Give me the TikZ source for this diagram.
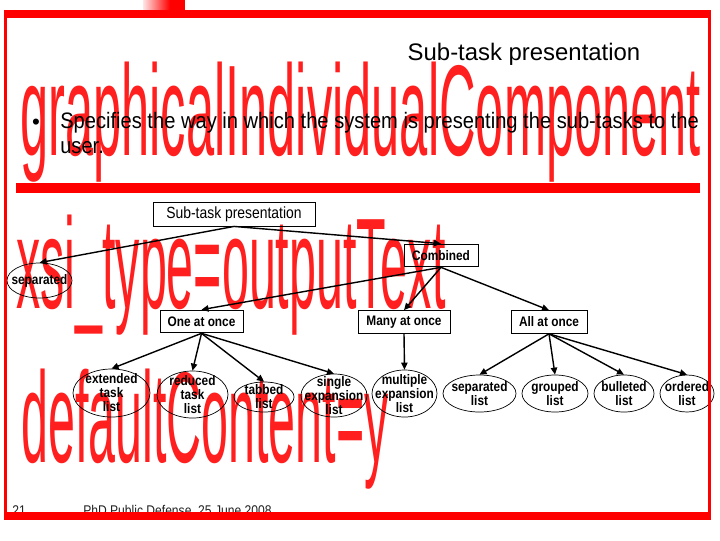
\documentclass[tikz,border=0pt]{standalone}
\usepackage{fontspec}
\setmainfont{Liberation Sans}
\newfontfamily\slidesans[FakeStretch=0.86]{Liberation Sans}
\newfontfamily\bulletsans[FakeStretch=0.9]{Liberation Sans}
\newfontfamily\markfont[FakeStretch=0.375]{Liberation Sans}
\newfontfamily\markfontwide[FakeStretch=0.392]{Liberation Sans}
\usetikzlibrary{arrows.meta,positioning,shapes.geometric}
\definecolor{SlideRed}{HTML}{FF0000}
\definecolor{Ink}{HTML}{000000}
\definecolor{Footer}{HTML}{222222}
\tikzset{
  markword/.style={anchor=base west,inner sep=0pt,text=SlideRed!88,font=\markfont\fontsize{91.8}{92}\selectfont},
  optbox/.style={draw=Ink,line width=0.6pt,inner sep=0pt,minimum height=0.57cm,align=center,font=\slidesans\bfseries\fontsize{9.8}{11}\selectfont,text=Ink},
  listitem/.style={draw=Ink,ellipse,line width=0.5pt,inner sep=0pt},
  listtext/.style={inner sep=0pt,align=center,font=\slidesans\bfseries\fontsize{9.8}{10}\selectfont,text=Ink},
  line/.style={-{Triangle[length=5pt,width=4.5pt]},draw=Ink,line width=1pt},
  footnote/.style={anchor=base west,inner sep=0pt,text=Footer,font=\slidesans\fontsize{10}{12}\selectfont}
}
\begin{document}
\begin{tikzpicture}[x=0.025cm,y=-0.025cm]
  \useasboundingbox (0,0) rectangle (720,540);
  \fill[white] (0,0) rectangle (720,540);
  \node[markword,font=\markfontwide\fontsize{91.8}{92}\selectfont] (mark1) at (20,155) {graphicalIndividualComponent};
  \node[markword] (mark2) at (16,308) {xsi\_type=outputText};
  \node[markword] (mark3) at (21,462) {defaultContent=y};

  \node[anchor=base,inner sep=0pt,font=\fontsize{17}{20}\selectfont] (title) at (524,60) {Sub-task presentation};
  \node[anchor=base,inner sep=0pt,font=\fontsize{15.9}{17}\selectfont] (dot) at (36,129) {\textbullet};
  \node[anchor=base west,inner sep=0pt,align=left,font=\bulletsans\fontsize{15.9}{17.1}\selectfont] (intro) at (60,153)
    {Specifies the way in which the system is presenting the sub-tasks to the\\user.};
  \fill[SlideRed] (16,183) rectangle (700,193);

  \node[optbox,font=\slidesans\fontsize{11.5}{12}\selectfont,minimum width=4.05cm,minimum height=0.6cm] (root) at (234,214) {Sub-task presentation};
  \node[optbox,minimum width=1.85cm] (combined) at (441,255.5) {Combined};
  \node[listitem,minimum width=1.625cm,minimum height=0.875cm] (separated) at (39.5,280.5) {};
  \node[listtext] (separatedtext) at (separated) {separated};
  \node[optbox,minimum width=2.075cm] (one) at (201.5,321.5) {One at once};
  \node[optbox,minimum width=2.3cm] (many) at (404,322) {Many at once};
  \node[optbox,minimum width=1.9cm] (all) at (549,322) {All at once};

  \node[listitem,minimum width=1.925cm,minimum height=1.2cm] (extended) at (111.5,393) {};
  \node[listtext] (extendedtext) at (extended) {extended\\task\\list};
  \node[listitem,minimum width=1.775cm,minimum height=1.175cm] (reduced) at (192.5,394.5) {};
  \node[listtext] (reducedtext) at (reduced) {reduced\\task\\list};
  \node[listitem,minimum width=1.5cm,minimum height=0.75cm] (tabbed) at (264,397) {};
  \node[listtext] (tabbedtext) at (tabbed) {tabbed\\list};
  \node[listitem,minimum width=1.65cm,minimum height=1.075cm] (single) at (334,395.5) {};
  \node[listtext] (singletext) at (single) {single\\expansion\\list};
  \node[listitem,minimum width=1.625cm,minimum height=1.175cm] (multiple) at (404.5,393.5) {};
  \node[listtext] (multipletext) at (multiple) {multiple\\expansion\\list};
  \node[listitem,minimum width=1.825cm,minimum height=0.925cm] (seplist) at (479.5,393.5) {};
  \node[listtext] (seplisttext) at (seplist) {separated\\list};
  \node[listitem,minimum width=1.65cm,minimum height=0.925cm] (grouped) at (555,393.5) {};
  \node[listtext] (groupedtext) at (grouped) {grouped\\list};
  \node[listitem,minimum width=1.5cm,minimum height=0.925cm] (bulleted) at (624,393.5) {};
  \node[listtext] (bulletedtext) at (bulleted) {bulleted\\list};
  \node[listitem,minimum width=1.35cm,minimum height=0.925cm] (ordered) at (687,393.5) {};
  \node[listtext] (orderedtext) at (ordered) {ordered\\list};

  \draw[line] (root.south) -- (separated.north);
  \draw[line] (root.south) -- (combined.north);
  \draw[line] (combined.south) -- (one.north);
  \draw[line] (combined.south) -- (many.north);
  \draw[line] (combined.south) -- (all.north);
  \draw[line] (one.south) -- (extended.north);
  \draw[line] (one.south) -- (reduced.north);
  \draw[line] (one.south) -- (tabbed.north);
  \draw[line] (one.south) -- (single.north);
  \draw[line] (many.south) -- (multiple.north);
  \draw[line] (all.south) -- (seplist.north);
  \draw[line] (all.south) -- (grouped.north);
  \draw[line] (all.south) -- (bulleted.north);
  \draw[line] (all.south) -- (ordered.north);

  \node[footnote] (pagenum) at (12,515) {21};
  \node[footnote] (event) at (83,515) {PhD Public Defense, 25 June 2008};

  \shade[left color=SlideRed!10,right color=SlideRed] (143,0) rectangle (170,10);
  \fill[SlideRed] (170,0) rectangle (185,10);
  \fill[SlideRed] (4,10) rectangle (711,18);
  \fill[SlideRed] (4,512) rectangle (711,520);
  \fill[SlideRed] (4,10) rectangle (7,520);
  \fill[SlideRed] (708,10) rectangle (711,520);
\end{tikzpicture}
\end{document}
